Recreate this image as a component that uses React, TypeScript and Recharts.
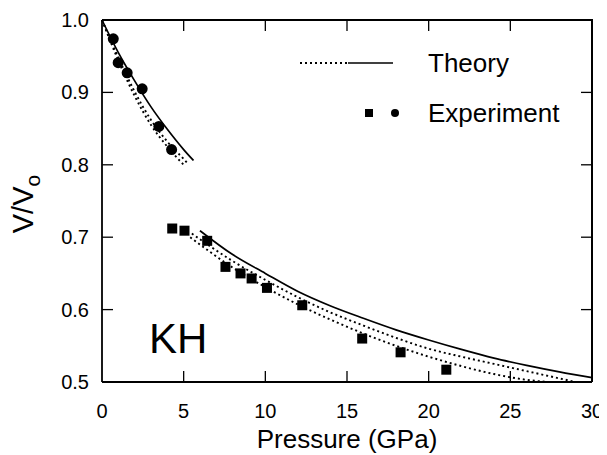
import React from 'react';
import { ComposedChart, Line, Scatter, XAxis, YAxis } from 'recharts';

const FONT = "'Liberation Sans', Arial, Helvetica, sans-serif";
const INK = '#000';

const xTicks = [0, 5, 10, 15, 20, 25, 30];
const yTicks = [0.5, 0.6, 0.7, 0.8, 0.9, 1.0];
// top and right edges of the plot frame, in data units
const frameEdge = [{ x: 0, y: 1.0 }, { x: 30, y: 1.0 }, { x: 30, y: 0.5 }];

const circleData = [
  { x: 0.69, y: 0.974 }, { x: 0.99, y: 0.941 }, { x: 1.54, y: 0.927 },
  { x: 2.46, y: 0.905 }, { x: 3.48, y: 0.853 }, { x: 4.26, y: 0.821 },
];
const squareData = [
  { x: 4.3, y: 0.712 }, { x: 5.05, y: 0.709 }, { x: 6.44, y: 0.695 }, { x: 7.56, y: 0.659 },
  { x: 8.48, y: 0.65 }, { x: 9.16, y: 0.643 }, { x: 10.1, y: 0.63 }, { x: 12.26, y: 0.606 },
  { x: 15.93, y: 0.56 }, { x: 18.28, y: 0.541 }, { x: 21.08, y: 0.517 },
];
const solid1 = [
  { x: 0, y: 1.0 }, { x: 1, y: 0.955 }, { x: 2, y: 0.916 }, { x: 3, y: 0.88 },
  { x: 4, y: 0.849 }, { x: 5, y: 0.821 }, { x: 5.6, y: 0.806 },
];
const dottedA1 = [
  { x: 0, y: 1.0 }, { x: 1, y: 0.948 }, { x: 2, y: 0.901 }, { x: 3, y: 0.862 },
  { x: 4, y: 0.832 }, { x: 5, y: 0.808 }, { x: 5.2, y: 0.803 },
];
const dottedB1 = [
  { x: 0, y: 1.0 }, { x: 1, y: 0.944 }, { x: 2, y: 0.895 }, { x: 3, y: 0.855 },
  { x: 4, y: 0.825 }, { x: 5, y: 0.8 },
];
const solid2 = [
  { x: 6.0, y: 0.709 }, { x: 8, y: 0.676 }, { x: 10, y: 0.65 }, { x: 12, y: 0.625 },
  { x: 14, y: 0.605 }, { x: 16, y: 0.588 }, { x: 18, y: 0.572 }, { x: 20, y: 0.558 },
  { x: 22, y: 0.545 }, { x: 24, y: 0.533 }, { x: 26, y: 0.523 }, { x: 28, y: 0.514 },
  { x: 30, y: 0.506 },
];
const dottedA2 = [
  { x: 5.5, y: 0.705 }, { x: 8, y: 0.667 }, { x: 10, y: 0.641 }, { x: 12, y: 0.617 },
  { x: 14, y: 0.596 }, { x: 16, y: 0.578 }, { x: 18, y: 0.561 }, { x: 20, y: 0.546 },
  { x: 22, y: 0.535 }, { x: 24, y: 0.525 }, { x: 26, y: 0.515 }, { x: 28, y: 0.505 },
  { x: 29, y: 0.5 },
];
const dottedB2 = [
  { x: 5.4, y: 0.7 }, { x: 8, y: 0.658 }, { x: 10, y: 0.631 }, { x: 12, y: 0.607 },
  { x: 14, y: 0.586 }, { x: 16, y: 0.567 }, { x: 18, y: 0.55 }, { x: 20, y: 0.535 },
  { x: 22, y: 0.522 }, { x: 24, y: 0.511 }, { x: 26, y: 0.503 }, { x: 27.3, y: 0.5 },
];

const TICK_LEN = 11;
const TICK_STROKE = '#000';
const TICK_W = 1.3;

const BottomTick = (props: any) => {
  const { x, y, payload } = props;
  const v = Number(payload.value);
  const inner = v > 0 && v < 30;
  return (
    <g>
      {inner ? <path d={`M${x},${y}L${x},${y - TICK_LEN}`} stroke={TICK_STROKE} strokeWidth={TICK_W} fill="none" /> : null}
      <text x={x} y={y + 36} textAnchor="middle" fontSize={20} fontFamily={FONT} fill={INK}>
        {payload.value}
      </text>
    </g>
  );
};

const TopTick = (props: any) => {
  const { x, y, payload } = props;
  const v = Number(payload.value);
  if (!(v > 0 && v < 30)) return <g />;
  return <g><path d={`M${x},${y}L${x},${y + TICK_LEN}`} stroke={TICK_STROKE} strokeWidth={TICK_W} fill="none" /></g>;
};

const LeftTick = (props: any) => {
  const { x, y, payload } = props;
  const v = Number(payload.value);
  const inner = v > 0.5 && v < 1.0;
  return (
    <g>
      {inner ? <path d={`M${x},${y}L${x + TICK_LEN},${y}`} stroke={TICK_STROKE} strokeWidth={TICK_W} fill="none" /> : null}
      <text x={x - 13} y={y + 7} textAnchor="end" fontSize={20} fontFamily={FONT} fill={INK}>
        {v.toFixed(1)}
      </text>
    </g>
  );
};

const RightTick = (props: any) => {
  const { x, y, payload } = props;
  const v = Number(payload.value);
  if (!(v > 0.5 && v < 1.0)) return <g />;
  return <g><path d={`M${x},${y}L${x - TICK_LEN},${y}`} stroke={TICK_STROKE} strokeWidth={TICK_W} fill="none" /></g>;
};

const SquareShape = (props: any) => {
  const { cx, cy } = props;
  return <rect x={cx - 5} y={cy - 5} width={10} height={10} fill={INK} />;
};
const CircleShape = (props: any) => {
  const { cx, cy } = props;
  return <circle cx={cx} cy={cy} r={5.5} fill={INK} />;
};

const W = 599;
const H = 447;
const axisLine = { stroke: INK, strokeWidth: 1.8 };

export default function App() {
  const dotted = { stroke: INK, strokeWidth: 1.9, strokeDasharray: '2 3', dot: false, isAnimationActive: false, type: 'monotone' as const };
  const solid = { stroke: INK, strokeWidth: 1.7, dot: false, isAnimationActive: false, type: 'monotone' as const };
  return (
    <div style={{ position: 'relative', width: W, height: H, background: '#fff' }}>
      <ComposedChart width={W} height={H} margin={{ top: 11, right: 14, bottom: 0, left: 0 }}>
        <XAxis
          xAxisId="bottom"
          type="number"
          dataKey="x"
          domain={[0, 30]}
          ticks={xTicks}
          interval={0}
          height={73}
          tickSize={0}
          tickMargin={0}
          tickLine={false}
          axisLine={axisLine}
          tick={BottomTick}
        />
        <XAxis
          xAxisId="top"
          orientation="top"
          type="number"
          dataKey="x"
          domain={[0, 30]}
          ticks={xTicks}
          interval={0}
          height={1}
          tickSize={0}
          tickMargin={0}
          tickLine={false}
          axisLine={axisLine}
          tick={TopTick}
        />
        <YAxis
          yAxisId="left"
          type="number"
          dataKey="y"
          domain={[0.5, 1.0]}
          ticks={yTicks}
          interval={0}
          width={94}
          tickSize={0}
          tickMargin={0}
          tickLine={false}
          axisLine={axisLine}
          tick={LeftTick}
        />
        <YAxis
          yAxisId="right"
          orientation="right"
          type="number"
          dataKey="y"
          domain={[0.5, 1.0]}
          ticks={yTicks}
          interval={0}
          width={1}
          tickSize={0}
          tickMargin={0}
          tickLine={false}
          axisLine={axisLine}
          tick={RightTick}
        />
        <Line data={frameEdge} dataKey="y" xAxisId="top" yAxisId="right" type="linear" stroke={INK} strokeWidth={1.8} dot={false} activeDot={false} legendType="none" isAnimationActive={false} />
        <Line data={frameEdge} dataKey="y" xAxisId="bottom" yAxisId="left" type="linear" stroke={INK} strokeWidth={1.8} dot={false} activeDot={false} legendType="none" isAnimationActive={false} />
        <Line data={solid1} dataKey="y" xAxisId="bottom" yAxisId="left" {...solid} />
        <Line data={dottedA1} dataKey="y" xAxisId="bottom" yAxisId="left" {...dotted} />
        <Line data={dottedB1} dataKey="y" xAxisId="bottom" yAxisId="left" {...dotted} />
        <Line data={solid2} dataKey="y" xAxisId="bottom" yAxisId="left" {...solid} />
        <Line data={dottedA2} dataKey="y" xAxisId="bottom" yAxisId="left" {...dotted} />
        <Line data={dottedB2} dataKey="y" xAxisId="bottom" yAxisId="left" {...dotted} />
        <Scatter data={circleData} dataKey="y" xAxisId="bottom" yAxisId="left" shape={CircleShape} isAnimationActive={false} />
        <Scatter data={squareData} dataKey="y" xAxisId="bottom" yAxisId="left" shape={SquareShape} isAnimationActive={false} />
      </ComposedChart>
      <svg
        width={W}
        height={H}
        style={{ position: 'absolute', left: 0, top: 0, pointerEvents: 'none' }}
      >
        <line x1={292} y1={55} x2={340} y2={55} stroke={INK} strokeWidth={1.8} strokeDasharray="2 3" />
        <line x1={340} y1={55} x2={385} y2={55} stroke={INK} strokeWidth={1.6} />
        <text x={420} y={64} fontSize={26} fontFamily={FONT} fill={INK}>Theory</text>
        <rect x={357} y={101} width={8} height={8} fill={INK} />
        <circle cx={387} cy={105} r={4} fill={INK} />
        <text x={420} y={114} fontSize={26} fontFamily={FONT} fill={INK}>Experiment</text>
        <text x={141} y={345} fontSize={42} fontFamily={FONT} fill={INK}>KH</text>
        <text x={339} y={440} textAnchor="middle" fontSize={26} fontFamily={FONT} fill={INK}>
          Pressure (GPa)
        </text>
        <text
          x={25}
          y={196}
          transform="rotate(-90, 25, 196)"
          textAnchor="middle"
          fontSize={29}
          fontFamily={FONT}
          fill={INK}
        >
          V/V<tspan dy={7} fontSize={21}>o</tspan>
        </text>
      </svg>
    </div>
  );
}
